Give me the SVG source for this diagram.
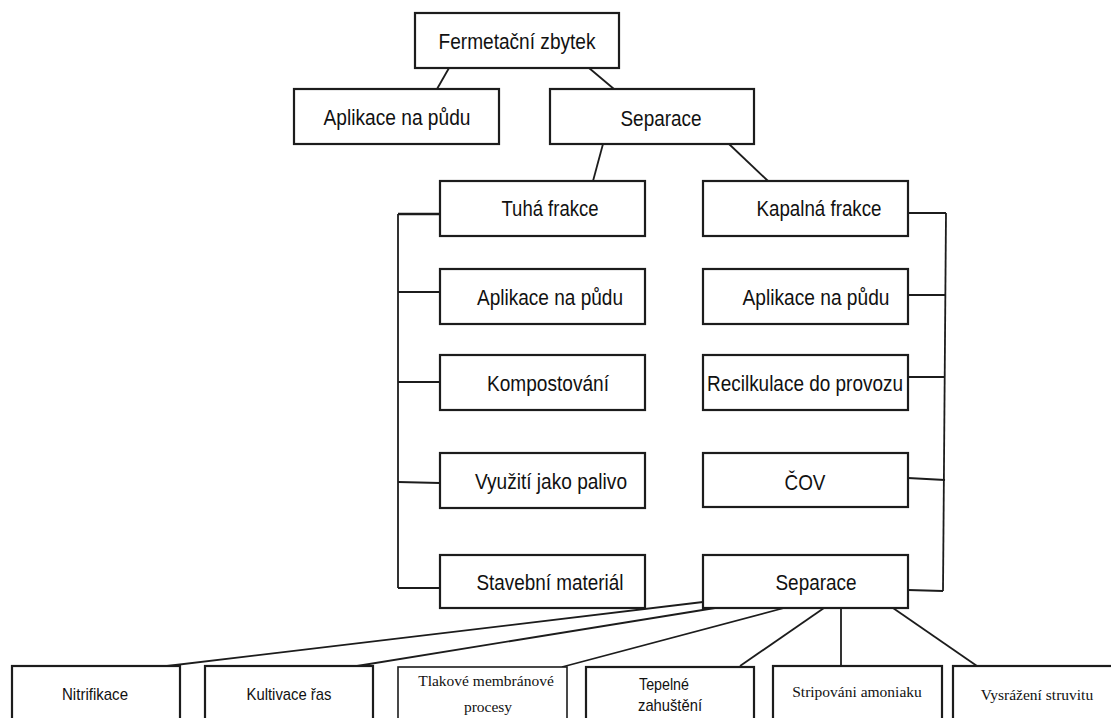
<svg xmlns="http://www.w3.org/2000/svg" width="1111" height="718" viewBox="0 0 1111 718">
<style>
.box{fill:#fff;stroke:#1c1c1c;stroke-width:2.2}
.boxt{fill:#fff;stroke:#1c1c1c;stroke-width:1.6}
.s{font-family:"Liberation Sans",Arial,sans-serif;font-size:22px;fill:#111;text-anchor:middle}
.sb{font-family:"Liberation Sans",Arial,sans-serif;font-size:17px;fill:#111;text-anchor:middle}
.sl{font-family:"Liberation Sans",Arial,sans-serif;font-size:17px;fill:#111;text-anchor:start}
.t{font-family:"Liberation Serif","Times New Roman",serif;font-size:15.5px;fill:#111;text-anchor:middle}
.ln{stroke:#1c1c1c;stroke-width:1.8;fill:none}
</style>
<rect width="1111" height="718" fill="#fff"/>
<g id="connectors" class="ln">
<line x1="449" y1="68" x2="437" y2="89"/>
<line x1="589" y1="68" x2="614" y2="89"/>
<line x1="603" y1="144" x2="593" y2="181"/>
<line x1="729" y1="144" x2="768" y2="181"/>
<line x1="398" y1="214" x2="398" y2="588"/>
<line x1="398" y1="214" x2="440" y2="214" stroke-width="2.4"/>
<line x1="398" y1="292" x2="440" y2="292"/>
<line x1="398" y1="382" x2="440" y2="382"/>
<line x1="398" y1="482" x2="440" y2="483"/>
<line x1="398" y1="588" x2="440" y2="588"/>
<line x1="946" y1="213" x2="943" y2="591"/>
<line x1="908" y1="213" x2="946" y2="213"/>
<line x1="908" y1="295" x2="946" y2="295"/>
<line x1="908" y1="377" x2="944" y2="377" stroke-width="2.2"/>
<line x1="908" y1="478" x2="945" y2="480"/>
<line x1="908" y1="590" x2="943" y2="591"/>
<line x1="703" y1="602" x2="167" y2="666"/>
<line x1="715" y1="608" x2="357" y2="666"/>
<line x1="784" y1="608" x2="562" y2="667"/>
<line x1="824" y1="608" x2="740" y2="666"/>
<line x1="841" y1="608" x2="841" y2="666"/>
<line x1="893" y1="608" x2="977" y2="666"/>
</g>
<g id="n-fermetacni">
<rect class="box" x="415" y="13" width="204" height="55"/>
<text class="s" x="517" y="49" textLength="157" lengthAdjust="spacingAndGlyphs">Fermetační zbytek</text>
</g>
<g id="n-aplikace-top">
<rect class="box" x="294" y="89" width="205" height="55"/>
<text class="s" x="397" y="125" textLength="147" lengthAdjust="spacingAndGlyphs">Aplikace na půdu</text>
</g>
<g id="n-separace-top">
<rect class="box" x="550" y="89" width="204" height="55"/>
<text class="s" x="661" y="126" textLength="81" lengthAdjust="spacingAndGlyphs">Separace</text>
</g>
<g id="n-tuha">
<rect class="box" x="440" y="181" width="205" height="55"/>
<text class="s" x="550" y="216" textLength="97" lengthAdjust="spacingAndGlyphs">Tuhá frakce</text>
</g>
<g id="n-aplikace-tuha">
<rect class="box" x="440" y="269" width="205" height="55"/>
<text class="s" x="550" y="305" textLength="146" lengthAdjust="spacingAndGlyphs">Aplikace na půdu</text>
</g>
<g id="n-kompostovani">
<rect class="box" x="440" y="355" width="205" height="55"/>
<text class="s" x="548" y="391" textLength="122" lengthAdjust="spacingAndGlyphs">Kompostování</text>
</g>
<g id="n-palivo">
<rect class="box" x="440" y="453" width="205" height="55"/>
<text class="s" x="551" y="489" textLength="152" lengthAdjust="spacingAndGlyphs">Využití jako palivo</text>
</g>
<g id="n-stavebni">
<rect class="box" x="440" y="555" width="205" height="53"/>
<text class="s" x="550" y="590" textLength="147" lengthAdjust="spacingAndGlyphs">Stavební materiál</text>
</g>
<g id="n-kapalna">
<rect class="box" x="703" y="181" width="205" height="55"/>
<text class="s" x="819" y="216" textLength="125" lengthAdjust="spacingAndGlyphs">Kapalná frakce</text>
</g>
<g id="n-aplikace-kapalna">
<rect class="box" x="703" y="269" width="205" height="55"/>
<text class="s" x="816" y="305" textLength="147" lengthAdjust="spacingAndGlyphs">Aplikace na půdu</text>
</g>
<g id="n-recilkulace">
<rect class="box" x="703" y="355" width="205" height="55"/>
<text class="s" x="805" y="391" textLength="196" lengthAdjust="spacingAndGlyphs">Recilkulace do provozu</text>
</g>
<g id="n-cov">
<rect class="box" x="703" y="453" width="205" height="54"/>
<text class="s" x="805" y="490" textLength="41" lengthAdjust="spacingAndGlyphs">ČOV</text>
</g>
<g id="n-separace-bottom">
<rect class="box" x="703" y="555" width="205" height="53"/>
<text class="s" x="816" y="590" textLength="81" lengthAdjust="spacingAndGlyphs">Separace</text>
</g>
<g id="n-nitrifikace">
<rect class="box" x="12" y="666" width="168" height="70"/>
<text class="sb" x="95" y="700" textLength="66" lengthAdjust="spacingAndGlyphs">Nitrifikace</text>
</g>
<g id="n-kultivace">
<rect class="box" x="205" y="666" width="168" height="70"/>
<text class="sb" x="289" y="700" textLength="85" lengthAdjust="spacingAndGlyphs">Kultivace řas</text>
</g>
<g id="n-tlakove">
<rect class="boxt" x="398" y="667" width="169" height="70"/>
<text class="t" x="486" y="686" font-size="15">Tlakové membránové</text>
<text class="t" x="488" y="712" font-size="15">procesy</text>
</g>
<g id="n-tepelne">
<rect class="box" x="586" y="667" width="168" height="70"/>
<text class="sl" x="639" y="690" textLength="50" lengthAdjust="spacingAndGlyphs">Tepelné</text>
<text class="sl" x="638" y="711" textLength="64" lengthAdjust="spacingAndGlyphs">zahuštění</text>
</g>
<g id="n-stripovani">
<rect class="box" x="773" y="666" width="169" height="70"/>
<text class="t" x="857" y="697">Stripováni amoniaku</text>
</g>
<g id="n-vysrazeni">
<rect class="box" x="953" y="666" width="168" height="70"/>
<text class="t" x="1037" y="700">Vysrážení struvitu</text>
</g>
</svg>
